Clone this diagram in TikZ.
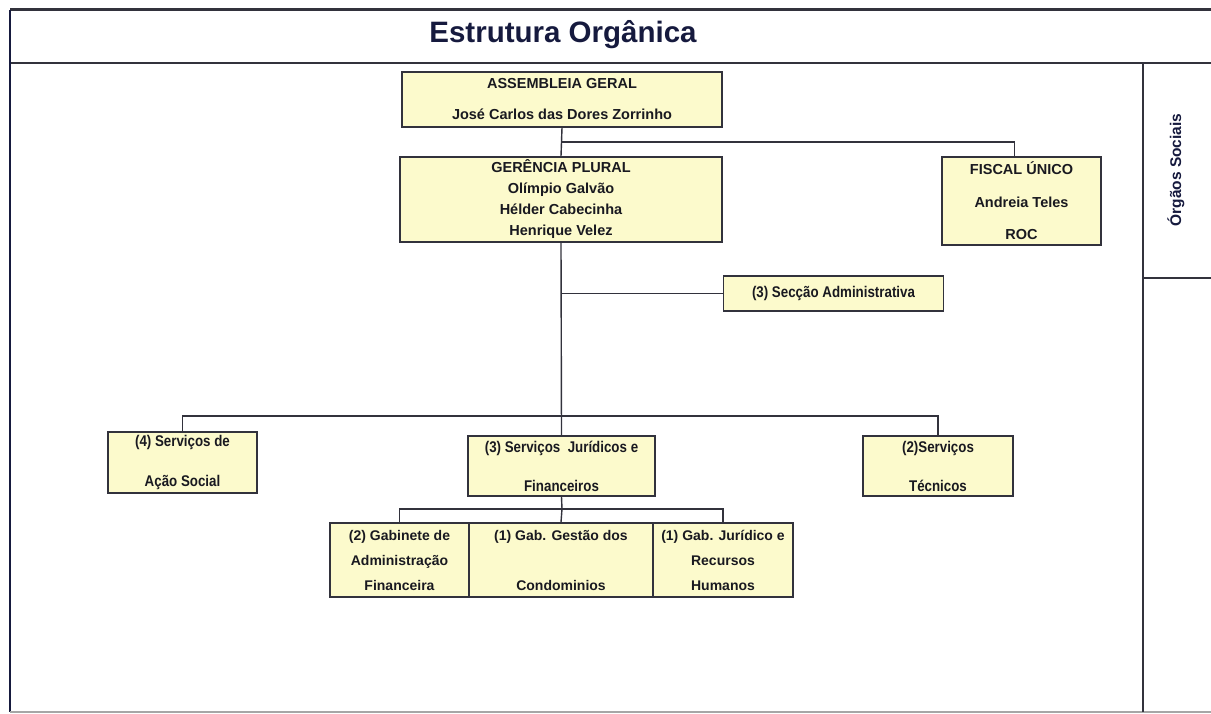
\documentclass[tikz,border=0pt]{standalone}
\usepackage{fontspec}
\setmainfont{Liberation Sans}
\newfontfamily\narrowfont[FakeStretch=0.86]{Liberation Sans}
\usetikzlibrary{positioning}
\definecolor{boxyellow}{RGB}{252,250,204}
\definecolor{titlenavy}{RGB}{22,26,62}
\definecolor{framegrey}{RGB}{50,50,60}
\definecolor{inkblack}{RGB}{25,25,32}

\begin{document}
\begin{tikzpicture}[x=1pt, y=-1pt,
        orgbox/.style={draw=framegrey, fill=boxyellow, line width=1.5pt, text=inkblack, align=center, inner sep=0pt, font=\bfseries\fontsize{14.5}{16}\selectfont},
        gabbox/.style={orgbox, font=\bfseries\fontsize{14}{16}\selectfont},
        narrowbox/.style={orgbox, font=\narrowfont\bfseries\fontsize{15.5}{16}\selectfont},
        link/.style={draw=framegrey, line width=1.4pt},
        frame/.style={draw=framegrey, line width=2pt}]
    \useasboundingbox (0,0) rectangle (1211,714);
    % frame and title band
    \draw[frame, line width=3pt] (10,10) -- (1211,10);
    \draw[frame, line width=2.5pt] (10,63) -- (1211,63);
    \draw[frame, draw=titlenavy] (10,10) -- (10,712);
    \draw[frame, draw=black!35, line width=1.5pt] (10,712) -- (1211,712);
    \draw[frame, line width=1.8pt] (1143,63) -- (1143,712);
    \draw[frame, line width=1.6pt] (1143,278) -- (1211,278);
    \node[text=titlenavy, font=\bfseries\fontsize{29.5}{32}\selectfont] (title) at (563,35) {Estrutura Orgânica};
    \node[rotate=90, text=titlenavy, font=\bfseries\fontsize{15.5}{16}\selectfont] (orgaos) at (1176,170) {Órgãos Sociais};

    % boxes
    \node[orgbox, minimum width=320, minimum height=55] (ag) at (562,99.5) {ASSEMBLEIA GERAL\\[15pt]José Carlos das Dores Zorrinho};
    \node[orgbox, minimum width=322, minimum height=85] (gp) at (561,199.5) {GERÊNCIA PLURAL\\[5pt]Olímpio Galvão\\[5pt]Hélder Cabecinha\\[5pt]Henrique Velez};
    \node[orgbox, minimum width=159, minimum height=88] (fu) at (1021.5,201) {FISCAL ÚNICO\\[16.5pt]Andreia Teles\\[16.5pt]ROC};
    \node[narrowbox, minimum width=220, minimum height=35] (sa) at (833.5,293.5) {(3) Secção Administrativa};
    \node[narrowbox, minimum width=149, minimum height=61] (as) at (182.5,462.5) {(4) Serviços de\\[24pt]Ação Social};
    \node[narrowbox, minimum width=187, minimum height=60] (sj) at (561.5,466) {(3) Serviços~ Jurídicos e\\[23pt]Financeiros};
    \node[narrowbox, minimum width=150, minimum height=60] (st) at (938,466) {(2)Serviços\\[23pt]Técnicos};
    \node[gabbox, minimum width=139, minimum height=74] (gf) at (399.5,560) {(2) Gabinete de\\[9pt]Administração\\[9pt]Financeira};
    \node[gabbox, minimum width=184, minimum height=74] (gc) at (561,560) {(1) Gab. Gestão dos\\[34pt]Condominios};
    \node[gabbox, minimum width=140, minimum height=74] (gj) at (723,560) {(1) Gab. Jurídico e\\[9pt]Recursos\\[9pt]Humanos};

    % connectors
    \coordinate (fiscaljoin) at (562,142);
    \coordinate (adminjoin) at (562,293.5);
    \coordinate (servjoin) at (562,416);
    \coordinate (gabjoin) at (562,509);
    \draw[link] (ag.south) -- (gp.north);
    \draw[link] (fiscaljoin) -| ([xshift=-7pt]fu.north);
    \draw[link] (gp.south) -- (sj.north);
    \draw[link] (adminjoin) -- (sa.west);
    \draw[link] (as.north) |- (servjoin) -| (st.north);
    \draw[link] (sj.south) -- (gabjoin);
    \draw[link] (gf.north) |- (gabjoin) -| (gj.north);
    \draw[link] (gabjoin) -- (gc.north);
\end{tikzpicture}
\end{document}
